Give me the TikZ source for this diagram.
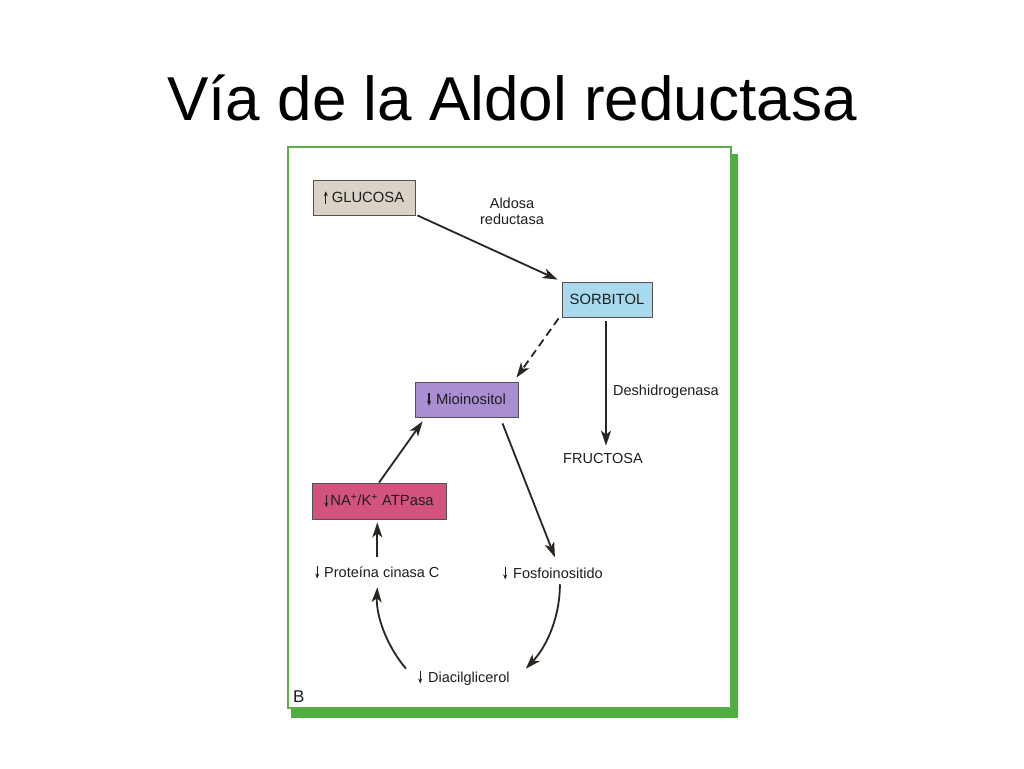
\documentclass[tikz,border=0pt]{standalone}
\usepackage{fontspec}
\setmainfont{Liberation Sans}
\usetikzlibrary{arrows.meta}
\definecolor{ink}{HTML}{2A2520}
\definecolor{txt}{HTML}{1E1E1E}
\definecolor{frame}{HTML}{5CAE4A}
\definecolor{shadow}{HTML}{4CAF3F}
\definecolor{glufill}{HTML}{D8D3C6}
\definecolor{sorfill}{HTML}{A9D9EC}
\definecolor{miofill}{HTML}{A98ED3}
\definecolor{nafill}{HTML}{D4527F}
\newcommand\upar{\tikz[baseline=0pt]\draw[txt,line width=1.1pt,-{Stealth[length=5pt,width=4pt]}] (0pt,-1pt)--(0pt,11.5pt);}
\newcommand\dnar{\tikz[baseline=0pt]\draw[txt,line width=1.1pt,-{Stealth[length=5pt,width=4pt]}] (0pt,11pt)--(0pt,-1.5pt);}
\tikzset{
  boxnode/.style={draw=ink!80, line width=0.8pt, minimum height=35pt, inner sep=0pt,
     font=\fontsize{14.8}{17}\selectfont, text=txt},
  lab/.style={font=\fontsize{14.5}{17}\selectfont, text=txt, inner sep=2pt, anchor=base west},
  conn/.style={draw=ink, line width=1.8pt, -{Stealth[length=15pt,width=10pt,inset=4pt]}},
}
\begin{document}
\begin{tikzpicture}[x=1pt,y=-1pt]
\useasboundingbox (0,0) rectangle (1024,768);
\fill[white] (0,0) rectangle (1024,768);
% title
\node[anchor=base, font=\fontsize{62}{66}\selectfont, inner sep=0pt] (title) at (512,120) {Vía de la Aldol reductasa};
% frame and shadow
\fill[shadow] (730,154) rectangle (738,718);
\fill[shadow] (291,708) rectangle (738,718);
\draw[frame, line width=1.2pt, fill=white] (288,147) rectangle (731,708);
% boxes
\node[boxnode, fill=glufill, minimum width=102pt] (glu) at (364,197.5) {\upar\hspace{4pt}GLUCOSA};
\node[boxnode, fill=sorfill, minimum width=90pt] (sor) at (607,299.5) {SORBITOL};
\node[boxnode, fill=miofill, minimum width=103pt] (mio) at (466.5,399.5) {\dnar\hspace{5pt}Mioinositol};
\node[boxnode, fill=nafill, minimum width=134pt, minimum height=36pt] (na) at (379,501) {\dnar\hspace{2pt}NA\textsuperscript{+}/K\textsuperscript{+} ATPasa};
% labels
\node[lab, align=center, anchor=base] (ald) at (512,224) {Aldosa\\[-1.5pt]reductasa};
\node[lab] (des) at (611,395) {Deshidrogenasa};
\node[lab] (fru) at (561,463) {FRUCTOSA};
\node[lab] (prot) at (313,577) {\dnar\hspace{5pt}Proteína cinasa C};
\node[lab] (fos) at (501,578) {\dnar\hspace{6pt}Fosfoinositido};
\node[lab] (diac) at (416,682) {\dnar\hspace{6pt}Diacilglicerol};
\node[lab, font=\fontsize{17}{19}\selectfont] (bl) at (291,702) {B};
% connectors
\draw[conn] ([shift={(2,0)}]glu.south east) -- ([shift={(-4,-2)}]sor.north west);
\draw[conn, dashed, dash pattern=on 8pt off 5pt] ([shift={(-3,1)}]sor.south west) -- ([shift={(-2,-4)}]mio.north east);
\draw[conn] ([shift={(-1,4)}]sor.south) -- ([shift={(-1,-5)}]sor.south |- fru.north);
\draw[conn] ([shift={(36,6)}]mio.south) -- ([shift={(2,-7)}]fos.north);
\draw[conn] (na.north) -- ([shift={(8,4)}]mio.south west);
\draw[conn] ([shift={(0,-6)}]prot.north) -- ([shift={(0,3)}]prot.north |- na.south);
\draw[conn] ([shift={(-10,-9)}]diac.west) .. controls (386,645) and (376,615) .. ([shift={(0,6)}]prot.south);
\draw[conn] ([shift={(7,2)}]fos.south) .. controls (560,615) and (548,645) .. ([shift={(14,-9)}]diac.east);
\end{tikzpicture}
\end{document}
